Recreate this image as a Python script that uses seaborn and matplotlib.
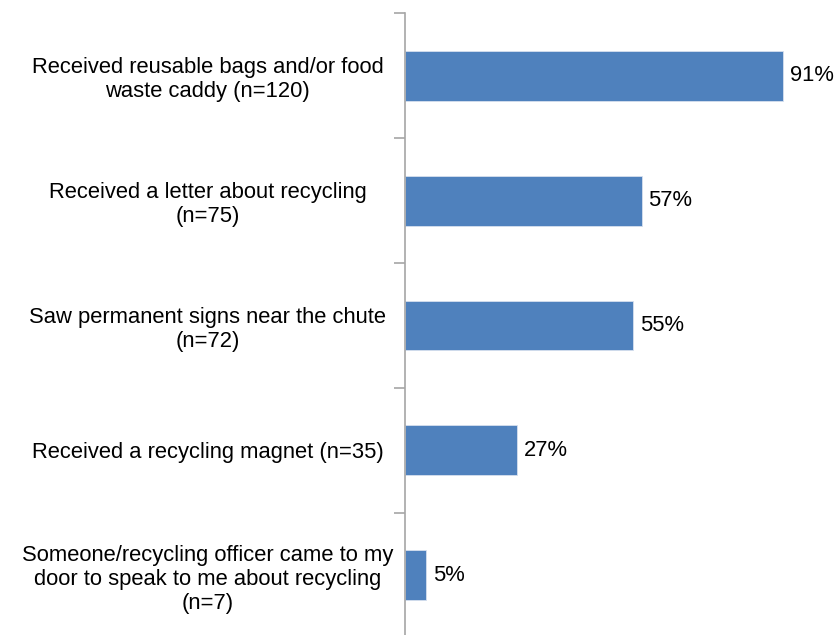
import matplotlib
matplotlib.use("Agg")
import matplotlib.pyplot as plt
import seaborn as sns
import pandas as pd

categories = [
    "Received reusable bags and/or food\nwaste caddy (n=120)",
    "Received a letter about recycling\n(n=75)",
    "Saw permanent signs near the chute\n(n=72)",
    "Received a recycling magnet (n=35)",
    "Someone/recycling officer came to my\ndoor to speak to me about recycling\n(n=7)",
]
values = [91, 57, 55, 27, 5]
value_labels = ["91%", "57%", "55%", "27%", "5%"]

sns.set_theme(style="white")
plt.rcParams["font.family"] = ["Liberation Sans", "DejaVu Sans"]

df = pd.DataFrame({"category": categories, "value": values})

fig = plt.figure(figsize=(8.38, 6.35), dpi=100)
ax = fig.add_axes([0.4833, -0.0047, 0.4952, 0.9842])

sns.barplot(data=df, x="value", y="category", orient="h", color="#4F81BD",
            saturation=1, width=0.4, edgecolor="#D6E0EE", linewidth=0.6, ax=ax)

ax.set_xlim(0, 100)
ax.set_ylim(len(categories) - 0.5, -0.5)
ax.set_xlabel("")
ax.set_ylabel("")
ax.set_xticks([])

for spine in ["top", "right", "bottom"]:
    ax.spines[spine].set_visible(False)
ax.spines["left"].set_color("#A6A6A6")
ax.spines["left"].set_linewidth(1.2)

# centred category labels; tick marks sit on the band boundaries
ax.tick_params(axis="y", which="major", length=0, pad=142, labelsize=15.8,
               labelcolor="#000000")
for lbl in ax.get_yticklabels():
    lbl.set_horizontalalignment("center")
    lbl.set_multialignment("center")
    lbl.set_linespacing(1.2)
ax.set_yticks([i - 0.5 for i in range(len(categories) + 1)], minor=True)
ax.tick_params(axis="y", which="minor", length=8, width=1.2, color="#A6A6A6",
               left=True)

for i, (v, t) in enumerate(zip(values, value_labels)):
    ax.annotate(t, xy=(v, i), xytext=(5, 0), textcoords="offset points",
                va="center", ha="left", fontsize=15.8, color="#000000")

fig.savefig("out.png", dpi=100)
